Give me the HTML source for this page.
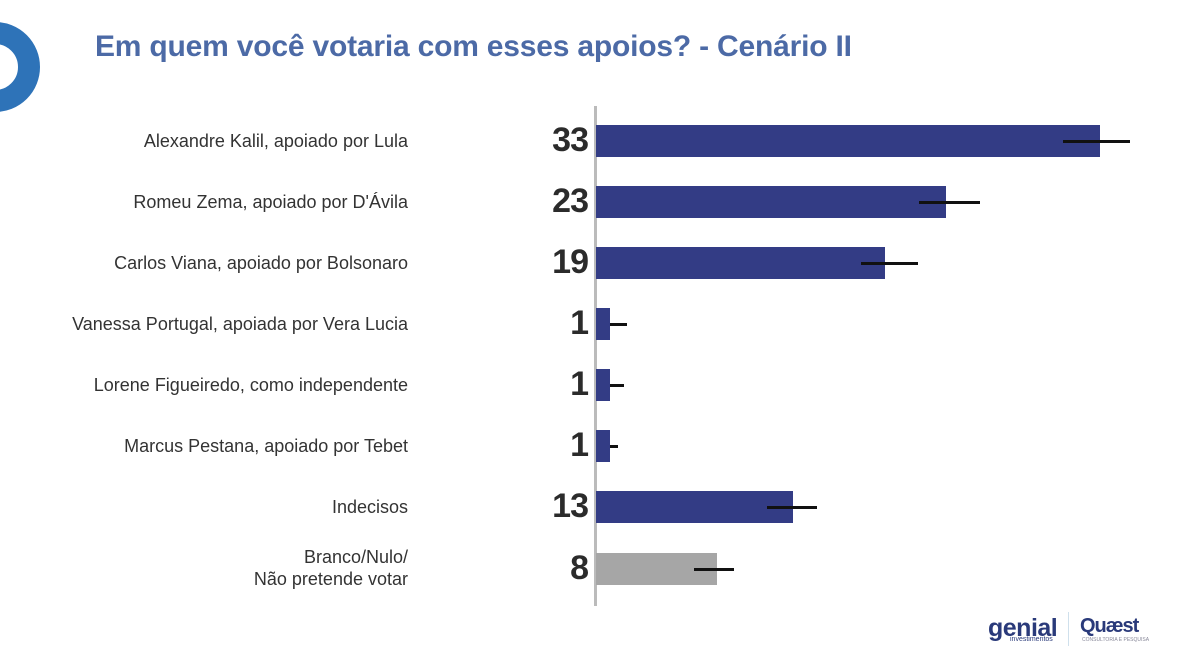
<!DOCTYPE html>
<html><head><meta charset="utf-8"><style>
html,body{margin:0;padding:0;background:#fff;}
body{width:1200px;height:671px;position:relative;overflow:hidden;font-family:"Liberation Sans",sans-serif;}
.t{position:absolute;left:95px;top:30px;font-size:30px;font-weight:bold;color:#4c6aa6;letter-spacing:-0.2px;}
.l{position:absolute;right:792px;font-size:18px;color:#333;text-align:right;line-height:22px;}
.n{position:absolute;right:612px;font-size:34px;font-weight:bold;color:#2b2b2b;letter-spacing:-1px;}
.b{position:absolute;left:596px;height:32px;background:#333c85;}
.e{position:absolute;height:3px;background:#111;}
</style></head><body>
<div style="position:absolute;left:-50px;top:22px;width:46px;height:46px;border:22px solid #2e73b8;border-radius:50%;"></div>
<div class="t">Em quem você votaria com esses apoios? - Cenário II</div>
<div style="position:absolute;left:594px;top:106px;width:3px;height:500px;background:#bbb;"></div>

<div class="l" style="top:130px">Alexandre Kalil, apoiado por Lula</div>
<div class="l" style="top:191px">Romeu Zema, apoiado por D'Ávila</div>
<div class="l" style="top:252px">Carlos Viana, apoiado por Bolsonaro</div>
<div class="l" style="top:313px">Vanessa Portugal, apoiada por Vera Lucia</div>
<div class="l" style="top:374px">Lorene Figueiredo, como independente</div>
<div class="l" style="top:435px">Marcus Pestana, apoiado por Tebet</div>
<div class="l" style="top:496px">Indecisos</div>
<div class="l" style="top:546px">Branco/Nulo/<br>Não pretende votar</div>

<div class="n" style="top:121px">33</div>
<div class="n" style="top:182px">23</div>
<div class="n" style="top:243px">19</div>
<div class="n" style="top:304px">1</div>
<div class="n" style="top:365px">1</div>
<div class="n" style="top:426px">1</div>
<div class="n" style="top:487px">13</div>
<div class="n" style="top:549px">8</div>

<div class="b" style="top:125px;width:504px"></div>
<div class="b" style="top:186px;width:350px"></div>
<div class="b" style="top:247px;width:289px"></div>
<div class="b" style="top:308px;width:14px"></div>
<div class="b" style="top:369px;width:14px"></div>
<div class="b" style="top:430px;width:14px"></div>
<div class="b" style="top:491px;width:197px"></div>
<div class="b" style="top:553px;width:121px;background:#a6a6a6"></div>

<div class="e" style="top:140px;left:1063px;width:67px"></div>
<div class="e" style="top:201px;left:919px;width:61px"></div>
<div class="e" style="top:262px;left:861px;width:57px"></div>
<div class="e" style="top:323px;left:610px;width:17px"></div>
<div class="e" style="top:384px;left:610px;width:14px"></div>
<div class="e" style="top:445px;left:610px;width:8px"></div>
<div class="e" style="top:506px;left:767px;width:50px"></div>
<div class="e" style="top:568px;left:694px;width:40px"></div>

<div style="position:absolute;left:988px;top:614px;font-size:25px;color:#2a3a7a;font-weight:bold;letter-spacing:-0.5px;">genial</div>
<div style="position:absolute;left:1010px;top:636px;font-size:7px;color:#2a3a7a;">investimentos</div>
<div style="position:absolute;left:1068px;top:612px;width:1px;height:34px;background:#cfe0ec;"></div>
<div style="position:absolute;left:1080px;top:615px;font-size:20px;color:#2a3a7a;font-weight:bold;letter-spacing:-1px;">Quæst</div>
<div style="position:absolute;left:1082px;top:637px;font-size:5px;color:#889;">CONSULTORIA E PESQUISA</div>
</body></html>
